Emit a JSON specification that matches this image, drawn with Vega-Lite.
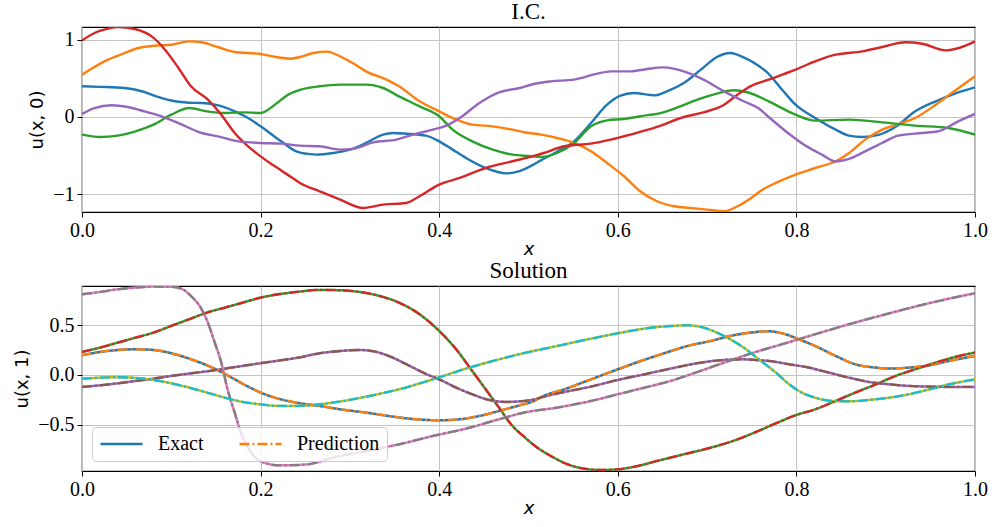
{
  "$schema": "https://vega.github.io/schema/vega-lite/v6.json",
  "background": "white",
  "padding": {"left": 13, "top": 0, "right": 14, "bottom": 4},
  "spacing": 0,
  "resolve": {"scale": {"color": "independent", "strokeDash": "independent"}, "legend": {"color": "independent", "strokeDash": "independent"}},
  "config": {
    "view": {"stroke": "black", "strokeWidth": 1.2},
    "axis": {"labelFont": "Liberation Serif", "labelFontSize": 20, "labelColor": "black", "tickColor": "black", "tickSize": 5, "tickWidth": 1, "domain": false, "gridColor": "#c4c4c4", "gridWidth": 1, "titleFont": "DejaVu Sans", "titleFontSize": 18, "titleFontWeight": "normal", "titleColor": "black", "labelPadding": 3, "labelFlush": false, "labelOverlap": false},
    "title": {"font": "Liberation Serif", "fontSize": 23, "fontWeight": "normal", "color": "black", "offset": 3, "anchor": "middle"},
    "legend": {"labelFont": "Liberation Serif", "labelFontSize": 20, "labelColor": "black"}
  },
  "datasets": {
    "ic": [
      {"x":0,"u":0.397,"s":"C0"},{"x":0.02,"u":0.39,"s":"C0"},{"x":0.048,"u":0.375,"s":"C0"},{"x":0.068,"u":0.33,"s":"C0"},{"x":0.085,"u":0.259,"s":"C0"},{"x":0.104,"u":0.203,"s":"C0"},{"x":0.12,"u":0.185,"s":"C0"},{"x":0.134,"u":0.181,"s":"C0"},{"x":0.149,"u":0.159,"s":"C0"},{"x":0.171,"u":0.073,"s":"C0"},{"x":0.186,"u":-0.013,"s":"C0"},{"x":0.2,"u":-0.121,"s":"C0"},{"x":0.223,"u":-0.315,"s":"C0"},{"x":0.24,"u":-0.444,"s":"C0"},{"x":0.255,"u":-0.48,"s":"C0"},{"x":0.262,"u":-0.487,"s":"C0"},{"x":0.281,"u":-0.466,"s":"C0"},{"x":0.3,"u":-0.422,"s":"C0"},{"x":0.318,"u":-0.336,"s":"C0"},{"x":0.337,"u":-0.228,"s":"C0"},{"x":0.348,"u":-0.207,"s":"C0"},{"x":0.363,"u":-0.216,"s":"C0"},{"x":0.385,"u":-0.241,"s":"C0"},{"x":0.4,"u":-0.315,"s":"C0"},{"x":0.415,"u":-0.422,"s":"C0"},{"x":0.43,"u":-0.53,"s":"C0"},{"x":0.452,"u":-0.66,"s":"C0"},{"x":0.475,"u":-0.73,"s":"C0"},{"x":0.49,"u":-0.7,"s":"C0"},{"x":0.505,"u":-0.62,"s":"C0"},{"x":0.514,"u":-0.56,"s":"C0"},{"x":0.532,"u":-0.45,"s":"C0"},{"x":0.551,"u":-0.315,"s":"C0"},{"x":0.57,"u":-0.078,"s":"C0"},{"x":0.588,"u":0.159,"s":"C0"},{"x":0.603,"u":0.276,"s":"C0"},{"x":0.618,"u":0.31,"s":"C0"},{"x":0.641,"u":0.28,"s":"C0"},{"x":0.655,"u":0.332,"s":"C0"},{"x":0.674,"u":0.44,"s":"C0"},{"x":0.693,"u":0.612,"s":"C0"},{"x":0.711,"u":0.776,"s":"C0"},{"x":0.726,"u":0.828,"s":"C0"},{"x":0.741,"u":0.77,"s":"C0"},{"x":0.758,"u":0.66,"s":"C0"},{"x":0.766,"u":0.59,"s":"C0"},{"x":0.784,"u":0.353,"s":"C0"},{"x":0.799,"u":0.159,"s":"C0"},{"x":0.821,"u":-0.013,"s":"C0"},{"x":0.844,"u":-0.164,"s":"C0"},{"x":0.859,"u":-0.241,"s":"C0"},{"x":0.874,"u":-0.259,"s":"C0"},{"x":0.893,"u":-0.228,"s":"C0"},{"x":0.912,"u":-0.121,"s":"C0"},{"x":0.933,"u":0.073,"s":"C0"},{"x":0.956,"u":0.203,"s":"C0"},{"x":0.979,"u":0.31,"s":"C0"},{"x":1,"u":0.384,"s":"C0"},
      {"x":0,"u":0.547,"s":"C1"},{"x":0.029,"u":0.741,"s":"C1"},{"x":0.048,"u":0.828,"s":"C1"},{"x":0.063,"u":0.892,"s":"C1"},{"x":0.081,"u":0.922,"s":"C1"},{"x":0.1,"u":0.935,"s":"C1"},{"x":0.12,"u":0.978,"s":"C1"},{"x":0.134,"u":0.966,"s":"C1"},{"x":0.152,"u":0.905,"s":"C1"},{"x":0.171,"u":0.84,"s":"C1"},{"x":0.2,"u":0.815,"s":"C1"},{"x":0.219,"u":0.772,"s":"C1"},{"x":0.234,"u":0.754,"s":"C1"},{"x":0.244,"u":0.776,"s":"C1"},{"x":0.259,"u":0.828,"s":"C1"},{"x":0.274,"u":0.845,"s":"C1"},{"x":0.289,"u":0.784,"s":"C1"},{"x":0.303,"u":0.698,"s":"C1"},{"x":0.318,"u":0.59,"s":"C1"},{"x":0.341,"u":0.483,"s":"C1"},{"x":0.355,"u":0.397,"s":"C1"},{"x":0.378,"u":0.203,"s":"C1"},{"x":0.4,"u":0.073,"s":"C1"},{"x":0.419,"u":-0.034,"s":"C1"},{"x":0.437,"u":-0.099,"s":"C1"},{"x":0.46,"u":-0.121,"s":"C1"},{"x":0.482,"u":-0.164,"s":"C1"},{"x":0.495,"u":-0.198,"s":"C1"},{"x":0.514,"u":-0.228,"s":"C1"},{"x":0.532,"u":-0.272,"s":"C1"},{"x":0.551,"u":-0.336,"s":"C1"},{"x":0.57,"u":-0.444,"s":"C1"},{"x":0.588,"u":-0.595,"s":"C1"},{"x":0.607,"u":-0.767,"s":"C1"},{"x":0.625,"u":-0.961,"s":"C1"},{"x":0.644,"u":-1.09,"s":"C1"},{"x":0.663,"u":-1.155,"s":"C1"},{"x":0.681,"u":-1.177,"s":"C1"},{"x":0.7,"u":-1.198,"s":"C1"},{"x":0.719,"u":-1.22,"s":"C1"},{"x":0.734,"u":-1.155,"s":"C1"},{"x":0.749,"u":-1.05,"s":"C1"},{"x":0.762,"u":-0.94,"s":"C1"},{"x":0.777,"u":-0.853,"s":"C1"},{"x":0.799,"u":-0.746,"s":"C1"},{"x":0.821,"u":-0.66,"s":"C1"},{"x":0.844,"u":-0.573,"s":"C1"},{"x":0.859,"u":-0.466,"s":"C1"},{"x":0.877,"u":-0.293,"s":"C1"},{"x":0.896,"u":-0.164,"s":"C1"},{"x":0.918,"u":-0.078,"s":"C1"},{"x":0.933,"u":-0.013,"s":"C1"},{"x":0.956,"u":0.159,"s":"C1"},{"x":0.979,"u":0.353,"s":"C1"},{"x":1,"u":0.526,"s":"C1"},
      {"x":0,"u":-0.228,"s":"C2"},{"x":0.02,"u":-0.259,"s":"C2"},{"x":0.04,"u":-0.241,"s":"C2"},{"x":0.06,"u":-0.185,"s":"C2"},{"x":0.08,"u":-0.099,"s":"C2"},{"x":0.1,"u":0.03,"s":"C2"},{"x":0.12,"u":0.116,"s":"C2"},{"x":0.14,"u":0.073,"s":"C2"},{"x":0.16,"u":0.052,"s":"C2"},{"x":0.18,"u":0.06,"s":"C2"},{"x":0.2,"u":0.052,"s":"C2"},{"x":0.216,"u":0.159,"s":"C2"},{"x":0.231,"u":0.289,"s":"C2"},{"x":0.244,"u":0.35,"s":"C2"},{"x":0.266,"u":0.397,"s":"C2"},{"x":0.289,"u":0.418,"s":"C2"},{"x":0.318,"u":0.418,"s":"C2"},{"x":0.337,"u":0.375,"s":"C2"},{"x":0.355,"u":0.267,"s":"C2"},{"x":0.378,"u":0.138,"s":"C2"},{"x":0.4,"u":0.009,"s":"C2"},{"x":0.415,"u":-0.164,"s":"C2"},{"x":0.437,"u":-0.315,"s":"C2"},{"x":0.46,"u":-0.422,"s":"C2"},{"x":0.482,"u":-0.487,"s":"C2"},{"x":0.5,"u":-0.505,"s":"C2"},{"x":0.514,"u":-0.517,"s":"C2"},{"x":0.532,"u":-0.466,"s":"C2"},{"x":0.551,"u":-0.336,"s":"C2"},{"x":0.57,"u":-0.121,"s":"C2"},{"x":0.588,"u":-0.043,"s":"C2"},{"x":0.607,"u":-0.026,"s":"C2"},{"x":0.625,"u":0.009,"s":"C2"},{"x":0.651,"u":0.06,"s":"C2"},{"x":0.67,"u":0.138,"s":"C2"},{"x":0.689,"u":0.224,"s":"C2"},{"x":0.711,"u":0.302,"s":"C2"},{"x":0.73,"u":0.345,"s":"C2"},{"x":0.745,"u":0.32,"s":"C2"},{"x":0.769,"u":0.203,"s":"C2"},{"x":0.799,"u":0.03,"s":"C2"},{"x":0.821,"u":-0.047,"s":"C2"},{"x":0.859,"u":-0.034,"s":"C2"},{"x":0.896,"u":-0.069,"s":"C2"},{"x":0.933,"u":-0.112,"s":"C2"},{"x":0.97,"u":-0.142,"s":"C2"},{"x":1,"u":-0.228,"s":"C2"},
      {"x":0,"u":0.991,"s":"C3"},{"x":0.014,"u":1.086,"s":"C3"},{"x":0.029,"u":1.142,"s":"C3"},{"x":0.04,"u":1.164,"s":"C3"},{"x":0.059,"u":1.138,"s":"C3"},{"x":0.078,"u":1.043,"s":"C3"},{"x":0.093,"u":0.871,"s":"C3"},{"x":0.108,"u":0.634,"s":"C3"},{"x":0.122,"u":0.397,"s":"C3"},{"x":0.141,"u":0.224,"s":"C3"},{"x":0.156,"u":0.03,"s":"C3"},{"x":0.171,"u":-0.207,"s":"C3"},{"x":0.186,"u":-0.379,"s":"C3"},{"x":0.2,"u":-0.509,"s":"C3"},{"x":0.216,"u":-0.638,"s":"C3"},{"x":0.234,"u":-0.776,"s":"C3"},{"x":0.244,"u":-0.853,"s":"C3"},{"x":0.266,"u":-0.961,"s":"C3"},{"x":0.289,"u":-1.069,"s":"C3"},{"x":0.315,"u":-1.177,"s":"C3"},{"x":0.337,"u":-1.134,"s":"C3"},{"x":0.363,"u":-1.112,"s":"C3"},{"x":0.378,"u":-1.026,"s":"C3"},{"x":0.4,"u":-0.875,"s":"C3"},{"x":0.423,"u":-0.789,"s":"C3"},{"x":0.452,"u":-0.66,"s":"C3"},{"x":0.482,"u":-0.573,"s":"C3"},{"x":0.507,"u":-0.5,"s":"C3"},{"x":0.517,"u":-0.466,"s":"C3"},{"x":0.54,"u":-0.379,"s":"C3"},{"x":0.57,"u":-0.345,"s":"C3"},{"x":0.592,"u":-0.293,"s":"C3"},{"x":0.614,"u":-0.228,"s":"C3"},{"x":0.644,"u":-0.129,"s":"C3"},{"x":0.674,"u":0,"s":"C3"},{"x":0.696,"u":0.06,"s":"C3"},{"x":0.719,"u":0.159,"s":"C3"},{"x":0.734,"u":0.289,"s":"C3"},{"x":0.749,"u":0.4,"s":"C3"},{"x":0.769,"u":0.483,"s":"C3"},{"x":0.799,"u":0.612,"s":"C3"},{"x":0.821,"u":0.72,"s":"C3"},{"x":0.844,"u":0.806,"s":"C3"},{"x":0.874,"u":0.849,"s":"C3"},{"x":0.896,"u":0.905,"s":"C3"},{"x":0.922,"u":0.966,"s":"C3"},{"x":0.941,"u":0.948,"s":"C3"},{"x":0.967,"u":0.862,"s":"C3"},{"x":0.982,"u":0.892,"s":"C3"},{"x":1,"u":0.978,"s":"C3"},
      {"x":0,"u":0.039,"s":"C4"},{"x":0.014,"u":0.116,"s":"C4"},{"x":0.033,"u":0.151,"s":"C4"},{"x":0.051,"u":0.129,"s":"C4"},{"x":0.07,"u":0.073,"s":"C4"},{"x":0.089,"u":0.009,"s":"C4"},{"x":0.108,"u":-0.078,"s":"C4"},{"x":0.134,"u":-0.207,"s":"C4"},{"x":0.152,"u":-0.25,"s":"C4"},{"x":0.175,"u":-0.315,"s":"C4"},{"x":0.2,"u":-0.336,"s":"C4"},{"x":0.223,"u":-0.345,"s":"C4"},{"x":0.244,"u":-0.371,"s":"C4"},{"x":0.266,"u":-0.379,"s":"C4"},{"x":0.289,"u":-0.422,"s":"C4"},{"x":0.303,"u":-0.414,"s":"C4"},{"x":0.326,"u":-0.328,"s":"C4"},{"x":0.352,"u":-0.293,"s":"C4"},{"x":0.371,"u":-0.228,"s":"C4"},{"x":0.393,"u":-0.164,"s":"C4"},{"x":0.408,"u":-0.112,"s":"C4"},{"x":0.423,"u":-0.013,"s":"C4"},{"x":0.445,"u":0.181,"s":"C4"},{"x":0.467,"u":0.319,"s":"C4"},{"x":0.49,"u":0.375,"s":"C4"},{"x":0.507,"u":0.43,"s":"C4"},{"x":0.525,"u":0.461,"s":"C4"},{"x":0.551,"u":0.483,"s":"C4"},{"x":0.577,"u":0.56,"s":"C4"},{"x":0.592,"u":0.59,"s":"C4"},{"x":0.614,"u":0.59,"s":"C4"},{"x":0.633,"u":0.621,"s":"C4"},{"x":0.651,"u":0.642,"s":"C4"},{"x":0.674,"u":0.59,"s":"C4"},{"x":0.696,"u":0.483,"s":"C4"},{"x":0.719,"u":0.332,"s":"C4"},{"x":0.741,"u":0.203,"s":"C4"},{"x":0.758,"u":0.11,"s":"C4"},{"x":0.769,"u":0.0,"s":"C4"},{"x":0.792,"u":-0.22,"s":"C4"},{"x":0.81,"u":-0.37,"s":"C4"},{"x":0.829,"u":-0.49,"s":"C4"},{"x":0.844,"u":-0.575,"s":"C4"},{"x":0.859,"u":-0.543,"s":"C4"},{"x":0.877,"u":-0.444,"s":"C4"},{"x":0.896,"u":-0.336,"s":"C4"},{"x":0.914,"u":-0.241,"s":"C4"},{"x":0.941,"u":-0.207,"s":"C4"},{"x":0.959,"u":-0.185,"s":"C4"},{"x":0.979,"u":-0.069,"s":"C4"},{"x":1,"u":0.039,"s":"C4"}
    ],
    "sol": [
      {"x":0,"u":0.198,"e":"C0","p":"C1"},{"x":0.02,"u":0.231,"e":"C0","p":"C1"},{"x":0.04,"u":0.251,"e":"C0","p":"C1"},{"x":0.06,"u":0.258,"e":"C0","p":"C1"},{"x":0.08,"u":0.251,"e":"C0","p":"C1"},{"x":0.1,"u":0.218,"e":"C0","p":"C1"},{"x":0.12,"u":0.164,"e":"C0","p":"C1"},{"x":0.14,"u":0.097,"e":"C0","p":"C1"},{"x":0.156,"u":0.03,"e":"C0","p":"C1"},{"x":0.171,"u":-0.044,"e":"C0","p":"C1"},{"x":0.186,"u":-0.117,"e":"C0","p":"C1"},{"x":0.2,"u":-0.177,"e":"C0","p":"C1"},{"x":0.22,"u":-0.238,"e":"C0","p":"C1"},{"x":0.24,"u":-0.278,"e":"C0","p":"C1"},{"x":0.266,"u":-0.311,"e":"C0","p":"C1"},{"x":0.289,"u":-0.345,"e":"C0","p":"C1"},{"x":0.318,"u":-0.378,"e":"C0","p":"C1"},{"x":0.348,"u":-0.418,"e":"C0","p":"C1"},{"x":0.374,"u":-0.445,"e":"C0","p":"C1"},{"x":0.4,"u":-0.455,"e":"C0","p":"C1"},{"x":0.423,"u":-0.445,"e":"C0","p":"C1"},{"x":0.445,"u":-0.412,"e":"C0","p":"C1"},{"x":0.467,"u":-0.362,"e":"C0","p":"C1"},{"x":0.49,"u":-0.305,"e":"C0","p":"C1"},{"x":0.505,"u":-0.265,"e":"C0","p":"C1"},{"x":0.517,"u":-0.211,"e":"C0","p":"C1"},{"x":0.54,"u":-0.144,"e":"C0","p":"C1"},{"x":0.57,"u":-0.044,"e":"C0","p":"C1"},{"x":0.6,"u":0.057,"e":"C0","p":"C1"},{"x":0.626,"u":0.141,"e":"C0","p":"C1"},{"x":0.652,"u":0.218,"e":"C0","p":"C1"},{"x":0.678,"u":0.291,"e":"C0","p":"C1"},{"x":0.704,"u":0.342,"e":"C0","p":"C1"},{"x":0.726,"u":0.392,"e":"C0","p":"C1"},{"x":0.749,"u":0.426,"e":"C0","p":"C1"},{"x":0.769,"u":0.439,"e":"C0","p":"C1"},{"x":0.784,"u":0.419,"e":"C0","p":"C1"},{"x":0.803,"u":0.358,"e":"C0","p":"C1"},{"x":0.821,"u":0.291,"e":"C0","p":"C1"},{"x":0.844,"u":0.191,"e":"C0","p":"C1"},{"x":0.866,"u":0.107,"e":"C0","p":"C1"},{"x":0.889,"u":0.074,"e":"C0","p":"C1"},{"x":0.904,"u":0.064,"e":"C0","p":"C1"},{"x":0.926,"u":0.074,"e":"C0","p":"C1"},{"x":0.949,"u":0.097,"e":"C0","p":"C1"},{"x":0.971,"u":0.141,"e":"C0","p":"C1"},{"x":1,"u":0.191,"e":"C0","p":"C1"},
      {"x":0,"u":0.231,"e":"C2","p":"C3"},{"x":0.02,"u":0.275,"e":"C2","p":"C3"},{"x":0.04,"u":0.325,"e":"C2","p":"C3"},{"x":0.06,"u":0.375,"e":"C2","p":"C3"},{"x":0.08,"u":0.426,"e":"C2","p":"C3"},{"x":0.1,"u":0.493,"e":"C2","p":"C3"},{"x":0.12,"u":0.56,"e":"C2","p":"C3"},{"x":0.14,"u":0.627,"e":"C2","p":"C3"},{"x":0.16,"u":0.677,"e":"C2","p":"C3"},{"x":0.18,"u":0.727,"e":"C2","p":"C3"},{"x":0.2,"u":0.777,"e":"C2","p":"C3"},{"x":0.22,"u":0.811,"e":"C2","p":"C3"},{"x":0.24,"u":0.834,"e":"C2","p":"C3"},{"x":0.266,"u":0.855,"e":"C2","p":"C3"},{"x":0.289,"u":0.851,"e":"C2","p":"C3"},{"x":0.311,"u":0.834,"e":"C2","p":"C3"},{"x":0.333,"u":0.794,"e":"C2","p":"C3"},{"x":0.355,"u":0.727,"e":"C2","p":"C3"},{"x":0.378,"u":0.61,"e":"C2","p":"C3"},{"x":0.4,"u":0.442,"e":"C2","p":"C3"},{"x":0.419,"u":0.258,"e":"C2","p":"C3"},{"x":0.437,"u":0.04,"e":"C2","p":"C3"},{"x":0.452,"u":-0.144,"e":"C2","p":"C3"},{"x":0.467,"u":-0.328,"e":"C2","p":"C3"},{"x":0.482,"u":-0.512,"e":"C2","p":"C3"},{"x":0.495,"u":-0.62,"e":"C2","p":"C3"},{"x":0.51,"u":-0.731,"e":"C2","p":"C3"},{"x":0.525,"u":-0.814,"e":"C2","p":"C3"},{"x":0.544,"u":-0.898,"e":"C2","p":"C3"},{"x":0.562,"u":-0.941,"e":"C2","p":"C3"},{"x":0.581,"u":-0.955,"e":"C2","p":"C3"},{"x":0.6,"u":-0.948,"e":"C2","p":"C3"},{"x":0.622,"u":-0.915,"e":"C2","p":"C3"},{"x":0.644,"u":-0.864,"e":"C2","p":"C3"},{"x":0.674,"u":-0.797,"e":"C2","p":"C3"},{"x":0.704,"u":-0.731,"e":"C2","p":"C3"},{"x":0.734,"u":-0.647,"e":"C2","p":"C3"},{"x":0.758,"u":-0.56,"e":"C2","p":"C3"},{"x":0.777,"u":-0.486,"e":"C2","p":"C3"},{"x":0.799,"u":-0.405,"e":"C2","p":"C3"},{"x":0.821,"u":-0.345,"e":"C2","p":"C3"},{"x":0.844,"u":-0.261,"e":"C2","p":"C3"},{"x":0.866,"u":-0.177,"e":"C2","p":"C3"},{"x":0.889,"u":-0.094,"e":"C2","p":"C3"},{"x":0.911,"u":-0.01,"e":"C2","p":"C3"},{"x":0.933,"u":0.057,"e":"C2","p":"C3"},{"x":0.956,"u":0.124,"e":"C2","p":"C3"},{"x":0.979,"u":0.184,"e":"C2","p":"C3"},{"x":1,"u":0.225,"e":"C2","p":"C3"},
      {"x":0,"u":-0.12,"e":"C4","p":"C5"},{"x":0.02,"u":-0.104,"e":"C4","p":"C5"},{"x":0.04,"u":-0.084,"e":"C4","p":"C5"},{"x":0.06,"u":-0.06,"e":"C4","p":"C5"},{"x":0.08,"u":-0.037,"e":"C4","p":"C5"},{"x":0.1,"u":-0.01,"e":"C4","p":"C5"},{"x":0.12,"u":0.014,"e":"C4","p":"C5"},{"x":0.14,"u":0.037,"e":"C4","p":"C5"},{"x":0.16,"u":0.064,"e":"C4","p":"C5"},{"x":0.18,"u":0.091,"e":"C4","p":"C5"},{"x":0.2,"u":0.118,"e":"C4","p":"C5"},{"x":0.22,"u":0.144,"e":"C4","p":"C5"},{"x":0.24,"u":0.171,"e":"C4","p":"C5"},{"x":0.266,"u":0.218,"e":"C4","p":"C5"},{"x":0.289,"u":0.241,"e":"C4","p":"C5"},{"x":0.311,"u":0.251,"e":"C4","p":"C5"},{"x":0.33,"u":0.231,"e":"C4","p":"C5"},{"x":0.348,"u":0.174,"e":"C4","p":"C5"},{"x":0.367,"u":0.091,"e":"C4","p":"C5"},{"x":0.386,"u":0.007,"e":"C4","p":"C5"},{"x":0.4,"u":-0.044,"e":"C4","p":"C5"},{"x":0.419,"u":-0.127,"e":"C4","p":"C5"},{"x":0.437,"u":-0.194,"e":"C4","p":"C5"},{"x":0.456,"u":-0.251,"e":"C4","p":"C5"},{"x":0.475,"u":-0.271,"e":"C4","p":"C5"},{"x":0.49,"u":-0.265,"e":"C4","p":"C5"},{"x":0.505,"u":-0.248,"e":"C4","p":"C5"},{"x":0.517,"u":-0.218,"e":"C4","p":"C5"},{"x":0.54,"u":-0.171,"e":"C4","p":"C5"},{"x":0.57,"u":-0.117,"e":"C4","p":"C5"},{"x":0.6,"u":-0.05,"e":"C4","p":"C5"},{"x":0.63,"u":0.007,"e":"C4","p":"C5"},{"x":0.659,"u":0.064,"e":"C4","p":"C5"},{"x":0.689,"u":0.118,"e":"C4","p":"C5"},{"x":0.719,"u":0.151,"e":"C4","p":"C5"},{"x":0.741,"u":0.157,"e":"C4","p":"C5"},{"x":0.758,"u":0.148,"e":"C4","p":"C5"},{"x":0.769,"u":0.141,"e":"C4","p":"C5"},{"x":0.792,"u":0.107,"e":"C4","p":"C5"},{"x":0.814,"u":0.074,"e":"C4","p":"C5"},{"x":0.836,"u":0.024,"e":"C4","p":"C5"},{"x":0.859,"u":-0.027,"e":"C4","p":"C5"},{"x":0.881,"u":-0.07,"e":"C4","p":"C5"},{"x":0.904,"u":-0.094,"e":"C4","p":"C5"},{"x":0.926,"u":-0.11,"e":"C4","p":"C5"},{"x":0.949,"u":-0.117,"e":"C4","p":"C5"},{"x":0.971,"u":-0.12,"e":"C4","p":"C5"},{"x":1,"u":-0.12,"e":"C4","p":"C5"},
      {"x":0,"u":0.811,"e":"C6","p":"C7"},{"x":0.02,"u":0.834,"e":"C6","p":"C7"},{"x":0.04,"u":0.861,"e":"C6","p":"C7"},{"x":0.06,"u":0.878,"e":"C6","p":"C7"},{"x":0.08,"u":0.888,"e":"C6","p":"C7"},{"x":0.1,"u":0.886,"e":"C6","p":"C7"},{"x":0.111,"u":0.868,"e":"C6","p":"C7"},{"x":0.122,"u":0.794,"e":"C6","p":"C7"},{"x":0.134,"u":0.66,"e":"C6","p":"C7"},{"x":0.141,"u":0.526,"e":"C6","p":"C7"},{"x":0.148,"u":0.342,"e":"C6","p":"C7"},{"x":0.156,"u":0.124,"e":"C6","p":"C7"},{"x":0.163,"u":-0.144,"e":"C6","p":"C7"},{"x":0.171,"u":-0.379,"e":"C6","p":"C7"},{"x":0.178,"u":-0.58,"e":"C6","p":"C7"},{"x":0.186,"u":-0.73,"e":"C6","p":"C7"},{"x":0.193,"u":-0.821,"e":"C6","p":"C7"},{"x":0.204,"u":-0.881,"e":"C6","p":"C7"},{"x":0.22,"u":-0.908,"e":"C6","p":"C7"},{"x":0.24,"u":-0.905,"e":"C6","p":"C7"},{"x":0.255,"u":-0.895,"e":"C6","p":"C7"},{"x":0.281,"u":-0.831,"e":"C6","p":"C7"},{"x":0.318,"u":-0.764,"e":"C6","p":"C7"},{"x":0.355,"u":-0.697,"e":"C6","p":"C7"},{"x":0.393,"u":-0.613,"e":"C6","p":"C7"},{"x":0.43,"u":-0.539,"e":"C6","p":"C7"},{"x":0.467,"u":-0.445,"e":"C6","p":"C7"},{"x":0.495,"u":-0.378,"e":"C6","p":"C7"},{"x":0.532,"u":-0.328,"e":"C6","p":"C7"},{"x":0.57,"u":-0.261,"e":"C6","p":"C7"},{"x":0.6,"u":-0.194,"e":"C6","p":"C7"},{"x":0.63,"u":-0.127,"e":"C6","p":"C7"},{"x":0.659,"u":-0.06,"e":"C6","p":"C7"},{"x":0.689,"u":0.03,"e":"C6","p":"C7"},{"x":0.719,"u":0.124,"e":"C6","p":"C7"},{"x":0.758,"u":0.241,"e":"C6","p":"C7"},{"x":0.784,"u":0.309,"e":"C6","p":"C7"},{"x":0.821,"u":0.409,"e":"C6","p":"C7"},{"x":0.859,"u":0.51,"e":"C6","p":"C7"},{"x":0.896,"u":0.6,"e":"C6","p":"C7"},{"x":0.933,"u":0.687,"e":"C6","p":"C7"},{"x":0.971,"u":0.767,"e":"C6","p":"C7"},{"x":1,"u":0.821,"e":"C6","p":"C7"},
      {"x":0,"u":-0.037,"e":"C8","p":"C9"},{"x":0.02,"u":-0.027,"e":"C8","p":"C9"},{"x":0.04,"u":-0.023,"e":"C8","p":"C9"},{"x":0.06,"u":-0.03,"e":"C8","p":"C9"},{"x":0.08,"u":-0.05,"e":"C8","p":"C9"},{"x":0.1,"u":-0.084,"e":"C8","p":"C9"},{"x":0.12,"u":-0.127,"e":"C8","p":"C9"},{"x":0.14,"u":-0.177,"e":"C8","p":"C9"},{"x":0.16,"u":-0.228,"e":"C8","p":"C9"},{"x":0.18,"u":-0.271,"e":"C8","p":"C9"},{"x":0.2,"u":-0.295,"e":"C8","p":"C9"},{"x":0.22,"u":-0.311,"e":"C8","p":"C9"},{"x":0.24,"u":-0.311,"e":"C8","p":"C9"},{"x":0.281,"u":-0.278,"e":"C8","p":"C9"},{"x":0.318,"u":-0.218,"e":"C8","p":"C9"},{"x":0.355,"u":-0.144,"e":"C8","p":"C9"},{"x":0.393,"u":-0.044,"e":"C8","p":"C9"},{"x":0.43,"u":0.064,"e":"C8","p":"C9"},{"x":0.467,"u":0.157,"e":"C8","p":"C9"},{"x":0.495,"u":0.22,"e":"C8","p":"C9"},{"x":0.532,"u":0.291,"e":"C8","p":"C9"},{"x":0.57,"u":0.365,"e":"C8","p":"C9"},{"x":0.6,"u":0.419,"e":"C8","p":"C9"},{"x":0.63,"u":0.466,"e":"C8","p":"C9"},{"x":0.659,"u":0.492,"e":"C8","p":"C9"},{"x":0.678,"u":0.499,"e":"C8","p":"C9"},{"x":0.696,"u":0.476,"e":"C8","p":"C9"},{"x":0.711,"u":0.426,"e":"C8","p":"C9"},{"x":0.726,"u":0.358,"e":"C8","p":"C9"},{"x":0.741,"u":0.275,"e":"C8","p":"C9"},{"x":0.758,"u":0.157,"e":"C8","p":"C9"},{"x":0.777,"u":0.024,"e":"C8","p":"C9"},{"x":0.792,"u":-0.094,"e":"C8","p":"C9"},{"x":0.806,"u":-0.177,"e":"C8","p":"C9"},{"x":0.821,"u":-0.228,"e":"C8","p":"C9"},{"x":0.84,"u":-0.261,"e":"C8","p":"C9"},{"x":0.859,"u":-0.265,"e":"C8","p":"C9"},{"x":0.881,"u":-0.251,"e":"C8","p":"C9"},{"x":0.904,"u":-0.228,"e":"C8","p":"C9"},{"x":0.926,"u":-0.194,"e":"C8","p":"C9"},{"x":0.949,"u":-0.144,"e":"C8","p":"C9"},{"x":0.971,"u":-0.094,"e":"C8","p":"C9"},{"x":1,"u":-0.044,"e":"C8","p":"C9"}
    ]
  },
  "vconcat": [
    {
      "title": {"text": "I.C."},
      "width": 893,
      "height": 185,
      "data": {"name": "ic"},
      "mark": {"type": "line", "interpolate": "monotone", "strokeWidth": 2.4, "clip": true},
      "encoding": {
        "x": {"field": "x", "type": "quantitative", "scale": {"domain": [0, 1], "nice": false, "zero": false}, "axis": {"values": [0, 0.2, 0.4, 0.6, 0.8, 1], "format": ".1f", "title": "x", "titleFontStyle": "italic", "titlePadding": 0}},
        "y": {"field": "u", "type": "quantitative", "scale": {"domain": [-1.229, 1.164], "nice": false, "zero": false}, "axis": {"values": [-1, 0, 1], "format": "d", "title": "u(x, 0)", "titlePadding": 6}},
        "color": {"field": "s", "type": "nominal", "scale": {"domain": ["C0","C1","C2","C3","C4"], "range": ["#1f77b4","#ff7f0e","#2ca02c","#d62728","#9467bd"]}, "legend": null}
      }
    },
    {
      "title": {"text": "Solution"},
      "width": 893,
      "height": 185,
      "data": {"name": "sol"},
      "encoding": {
        "x": {"field": "x", "type": "quantitative", "scale": {"domain": [0, 1], "nice": false, "zero": false}, "axis": {"values": [0, 0.2, 0.4, 0.6, 0.8, 1], "format": ".1f", "title": "x", "titleFontStyle": "italic", "titlePadding": 0}},
        "y": {"field": "u", "type": "quantitative", "scale": {"domain": [-0.965, 0.894], "nice": false, "zero": false}, "axis": {"values": [-0.5, 0, 0.5], "format": ".1f", "title": "u(x, 1)", "titlePadding": 6}}
      },
      "layer": [
        {
          "mark": {"type": "line", "interpolate": "monotone", "strokeWidth": 2.5, "clip": true},
          "encoding": {
            "detail": {"field": "e", "type": "nominal"},
            "color": {"field": "e", "type": "nominal", "scale": {"domain": ["C0","C1","C2","C3","C4","C5","C6","C7","C8","C9"], "range": ["#1f77b4","#ff7f0e","#2ca02c","#d62728","#9467bd","#8c564b","#e377c2","#7f7f7f","#bcbd22","#17becf"]}, "legend": null},
            "strokeDash": {"datum": "Exact", "type": "nominal", "scale": {"domain": ["Exact", "Prediction"], "range": [[1, 0], [10, 3, 2, 3]]},
              "legend": {"title": null, "orient": "bottom-left", "direction": "horizontal", "columns": 2, "offset": 10, "symbolType": "stroke", "symbolSize": 1764, "symbolStrokeWidth": 2.5, "labelOffset": 14, "columnPadding": 34, "padding": 7, "clipHeight": 20, "fillColor": "rgba(255,255,255,0.8)", "strokeColor": "#cccccc", "cornerRadius": 4,
                "encode": {"symbols": {"update": {"stroke": {"signal": "datum.value === 'Exact' ? '#1f77b4' : '#ff7f0e'"}}}}}}
          }
        },
        {
          "mark": {"type": "line", "interpolate": "monotone", "strokeWidth": 2.3, "clip": true},
          "encoding": {
            "detail": {"field": "p", "type": "nominal"},
            "color": {"field": "p", "type": "nominal", "legend": null},
            "strokeDash": {"datum": "Prediction", "type": "nominal"}
          }
        }
      ]
    }
  ]
}
